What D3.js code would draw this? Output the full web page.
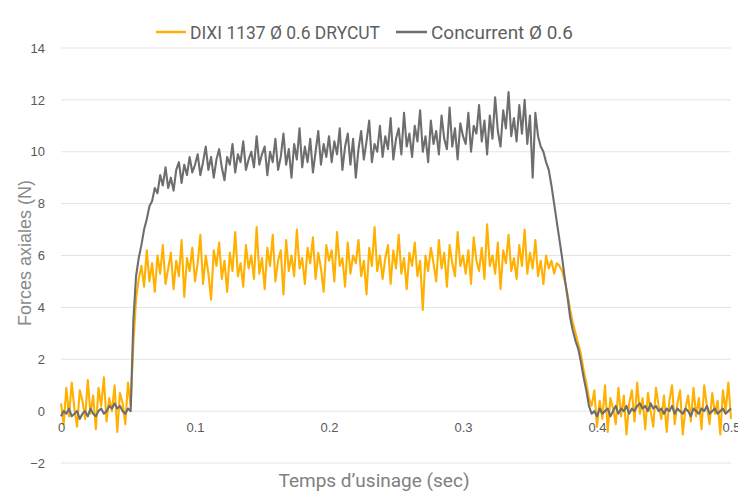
<!DOCTYPE html>
<html><head><meta charset="utf-8">
<script src="https://cdn.jsdelivr.net/npm/d3@7"></script>
<style>body{margin:0;background:#fff}svg{display:block}</style>
</head><body>
<svg id="chart" width="738" height="491"></svg>
<script>
const seriesNames = ["DIXI 1137 Ø 0.6 DRYCUT", "Concurrent Ø 0.6"];
const sampleStep = 0.002; // seconds between samples
const yTicks = [-2, 0, 2, 4, 6, 8, 10, 12, 14];
const xTicks = [0, 0.1, 0.2, 0.3, 0.4, 0.5];
const xTickLabels = ["0", "0.1", "0.2", "0.3", "0.4", "0.5"];

const dixi = [
0.3,-0.5,0.9,-0.2,1.1,0.1,-0.6,0.8,0.4,-0.3,
1.2,-0.1,0.6,-0.7,0.9,0.2,1.3,-0.4,0.5,0.0,
1.0,-0.8,0.7,0.3,-0.5,1.1,0.2,
2.6,4.3,5.1,
5.6,4.8,6.2,5.0,5.7,4.6,6.0,5.3,6.4,4.9,5.5,
6.1,4.7,5.8,5.2,6.6,4.4,5.9,5.4,6.3,5.0,
5.7,6.8,4.9,6.0,5.3,4.3,6.2,5.6,6.5,5.1,
5.8,4.6,6.1,5.4,6.9,5.2,5.7,4.8,6.4,5.5,
6.0,5.1,7.1,5.3,5.9,4.7,6.3,5.6,6.8,5.0,
5.8,6.2,4.5,6.6,5.4,6.0,5.2,7.0,5.5,5.9,
4.9,6.3,5.7,6.7,5.1,6.1,5.5,4.6,6.4,5.8,
6.2,5.0,6.9,5.6,5.9,4.8,6.5,5.3,6.0,5.7,
6.6,5.2,5.8,4.5,6.3,5.6,7.1,5.4,6.0,5.1,
5.9,6.4,4.9,6.2,5.5,6.8,5.3,5.9,4.7,6.1,
5.6,6.5,5.2,5.8,3.9,6.0,5.4,6.3,5.7,5.0,
6.6,5.5,6.1,4.8,6.4,5.7,5.2,6.9,5.6,6.0,
5.3,6.2,4.9,6.7,5.8,5.4,6.3,5.1,7.2,5.6,
6.0,5.3,6.5,4.7,6.2,5.7,6.8,5.4,5.9,5.1,
6.4,5.6,7.0,5.3,6.1,5.5,6.6,5.2,5.8,4.9,
6.0,5.5,5.8,5.3,
5.7,5.6,5.4,5.0,4.5,3.9,3.4,3.0,2.6,2.2,1.6,1.1,0.5,0.2,
0.8,-0.6,0.4,-0.3,1.0,-0.8,0.5,0.1,-0.5,0.9,
-0.2,0.6,-0.9,0.3,0.8,-0.4,1.1,-0.1,0.5,-0.7,
0.7,0.0,-0.6,0.9,0.2,-0.3,0.6,-0.8,0.4,1.0,
-0.5,0.3,0.8,-0.9,0.1,0.6,-0.4,0.9,-0.2,0.5,
-0.7,1.0,0.2,-0.5,0.7,-0.1,0.4,-0.9,0.8,0.0,
1.1,-0.3
];

const concurrent = [
-0.2,0.0,-0.1,0.1,-0.2,-0.1,0.0,-0.3,-0.1,0.0,
-0.2,0.1,-0.1,-0.2,0.0,0.1,-0.1,0.0,0.2,0.1,
0.3,0.1,0.2,0.0,-0.1,0.1,0.0,
3.5,5.2,5.9,6.4,7.0,7.4,7.9,8.1,8.6,8.4,9.1,8.7,9.4,8.6,
9.0,8.5,9.3,9.6,8.8,9.5,9.1,9.8,9.2,9.5,
9.9,9.1,9.6,10.2,9.3,9.8,9.0,9.7,10.1,9.4,
8.9,9.8,9.5,10.3,9.2,9.9,9.6,10.4,9.3,9.7,
10.0,9.4,10.6,9.5,9.9,10.2,9.1,10.0,9.6,10.5,
9.3,9.8,10.7,9.5,10.1,9.0,10.3,9.7,10.9,9.4,
10.2,9.6,10.5,9.2,10.0,10.8,9.5,10.3,9.8,10.6,
9.6,10.4,9.9,10.9,9.3,10.2,10.7,9.5,10.5,9.0,
10.1,10.8,9.7,10.4,11.2,9.6,10.3,10.0,11.0,9.8,
10.6,10.1,11.3,9.7,10.5,10.9,9.9,11.5,10.2,10.7,
9.8,11.0,10.4,11.6,10.0,10.6,9.6,11.2,10.3,10.8,
9.9,11.4,10.5,10.1,11.7,10.2,10.9,9.7,11.1,10.6,
10.3,11.5,10.0,11.0,10.7,11.8,10.4,11.2,9.9,11.4,
10.5,12.1,10.8,10.2,11.6,10.9,12.3,10.6,11.3,10.4,
11.8,10.7,12.0,10.3,11.4,9.0,11.5,10.6,
10.2,10.0,9.6,9.3,8.7,8.0,7.3,6.6,5.9,5.1,4.4,3.6,3.1,2.7,2.4,1.9,1.3,0.8,0.2,-0.1,
0.0,-0.2,0.1,-0.1,0.0,0.1,-0.2,0.0,0.2,-0.1,
0.1,0.0,0.2,-0.1,0.1,0.0,0.2,0.3,0.1,0.2,
0.0,0.3,0.1,0.2,0.0,0.1,-0.1,0.1,0.0,0.2,
-0.1,0.1,0.0,-0.1,0.1,0.0,-0.2,0.1,0.0,-0.1,
0.1,0.0,0.2,-0.1,0.0,0.1,-0.1,0.0,0.1,-0.1,
0.0,0.1
];

const colors = ["#FFB000", "#6E6E6E"];

const svg = d3.select("#chart");
const x = d3.scaleLinear().domain([0, 0.5]).range([61, 731]);
const y = d3.scaleLinear().domain([-2, 14]).range([463, 48]);

// gridlines
svg.append("g").selectAll("line").data(yTicks).join("line")
  .attr("x1", x(0)).attr("x2", x(0.5))
  .attr("y1", d => y(d)).attr("y2", d => y(d))
  .attr("stroke", "#e4e4e4").attr("stroke-width", 1);

// y axis labels
const yAxis = d3.axisLeft(y).tickValues(yTicks).tickSize(0).tickPadding(16).tickFormat(d3.format("d"));
const gy = svg.append("g").attr("transform", `translate(${x(0)},0)`).call(yAxis);
gy.select(".domain").remove();
gy.selectAll("text").attr("font-family", "Liberation Sans, Arial, sans-serif").attr("font-size", 13).attr("fill", "#595959");

// data lines
const line = d3.line().x((d, i) => x(i * sampleStep)).y(d => y(d));
[dixi, concurrent].forEach((s, k) => {
  svg.append("path").datum(s).attr("d", line)
    .attr("fill", "none").attr("stroke", colors[k])
    .attr("stroke-width", 2.1).attr("stroke-linejoin", "round");
});

// x axis labels at zero line
const xAxis = d3.axisBottom(x).tickValues(xTicks).tickSize(0).tickPadding(12)
  .tickFormat((d, i) => xTickLabels[i]);
const gx = svg.append("g").attr("transform", `translate(0,${y(0)})`).call(xAxis);
gx.select(".domain").remove();
gx.selectAll("text").attr("font-family", "Liberation Sans, Arial, sans-serif").attr("font-size", 13).attr("fill", "#595959");

// axis titles
svg.append("text").attr("x", 374).attr("y", 487).attr("text-anchor", "middle")
  .attr("font-family", "Roboto, Liberation Sans, sans-serif").attr("font-size", 19).attr("fill", "#808080")
  .text("Temps d’usinage (sec)");
svg.append("text").attr("transform", "translate(31,253) rotate(-90)").attr("text-anchor", "middle")
  .attr("font-family", "Liberation Sans, Arial, sans-serif").attr("font-size", 18).attr("fill", "#8a8a8a")
  .text("Forces axiales (N)");

// legend
const legend = [
  {x1: 156, x2: 186, tx: 190, w: 190},
  {x1: 396, x2: 427, tx: 431, w: 142}
];
legend.forEach((l, k) => {
  svg.append("line").attr("x1", l.x1).attr("x2", l.x2).attr("y1", 32).attr("y2", 32)
    .attr("stroke", colors[k]).attr("stroke-width", 2.5);
  svg.append("text").attr("x", l.tx).attr("y", 38.5)
    .attr("font-family", "Roboto, sans-serif").attr("font-size", 18).attr("fill", "#5f5f5f")
    .attr("textLength", l.w).attr("lengthAdjust", "spacingAndGlyphs")
    .text(seriesNames[k]);
});
</script>
</body></html>
